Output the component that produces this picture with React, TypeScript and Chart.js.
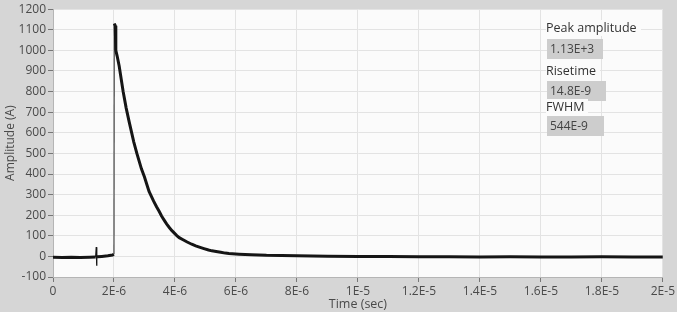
import React, { useEffect, useRef } from "react";
import { Chart, registerables } from "chart.js";

Chart.register(...registerables);

// Time in microseconds (axis labelled in seconds)
const timeUs = [
  0, 0.3, 0.6, 0.9, 1.2, 1.4, 1.42, 1.43, 1.44, 1.46, 1.6, 1.8, 1.95, 2.0,
  2.01, 2.04, 2.06, 2.1, 2.17, 2.3, 2.4, 2.5, 2.65, 2.75, 2.83, 2.9, 3.0,
  3.08, 3.15, 3.3, 3.4, 3.48, 3.56, 3.65, 3.73, 3.82, 3.9, 3.98, 4.06, 4.14,
  4.25, 4.4, 4.55, 4.68, 4.8, 4.95, 5.1, 5.21, 5.35, 5.5, 5.65, 5.77, 6.1, 6.5,
  7, 8, 9, 10, 11, 12, 13, 14, 15, 16, 17, 18, 19, 20,
];
const amplitude = [
  -4, -5, -4, -5, -4, -3, 45, -45, -3, -2, 0, 3, 7, 10,
  1130, 1120, 1000, 975, 924, 800, 720, 652, 555, 500, 460, 425, 385,
  348, 315, 268, 240, 219, 196, 175, 157, 139, 125, 113, 101, 91,
  82, 70, 59, 51, 45, 38, 31, 27, 24, 20, 16, 14, 11, 8,
  5, 3, 1, 0, -1, -2, -2, -3, -2, -3, -3, -2, -3, -3,
];

const xTickLabels = [
  "0", "2E-6", "4E-6", "6E-6", "8E-6", "1E-5", "1.2E-5", "1.4E-5", "1.6E-5", "1.8E-5", "2E-5",
];
const yMin = -100;
const yMax = 1200;
const yStep = 100;

const annotLabels = ["Peak amplitude", "Risetime", "FWHM"];
const annotValues = ["1.13E+3", "14.8E-9", "544E-9"];

const FONT = "'Open Sans', 'DejaVu Sans', sans-serif";

const bgPlugin = {
  id: "bgPanel",
  beforeDraw(chart: any) {
    const { ctx, chartArea } = chart;
    const { left, top, right, bottom } = chartArea;
    ctx.save();
    ctx.fillStyle = "#ffffff";
    ctx.fillRect(0, 0, chart.width, chart.height);
    ctx.fillStyle = "#d6d6d6";
    ctx.fillRect(0, 0, chart.width, 312);
    ctx.fillStyle = "#fbfbfb";
    ctx.fillRect(left, top, right - left, bottom - top);
    ctx.restore();
  },
};

export default function App() {
  const canvasRef = useRef<HTMLCanvasElement | null>(null);

  useEffect(() => {
    if (!canvasRef.current) return;
    const data = timeUs.map((t, i) => ({ x: t, y: amplitude[i] }));
    const thinSegments = [5, 6, 7, 13];
    const chart = new Chart(canvasRef.current, {
      type: "line",
      data: {
        datasets: [
          {
            data,
            borderColor: "#151515",
            borderWidth: 3,
            pointRadius: 0,
            tension: 0,
            segment: {
              borderWidth: (c: any) => (thinSegments.includes(c.p0DataIndex) ? 1.3 : undefined),
              borderColor: (c: any) => (c.p0DataIndex === 13 ? "#555" : undefined),
            },
          } as any,
        ],
      },
      options: {
        animation: false,
        responsive: true,
        maintainAspectRatio: false,
        layout: { padding: { top: 6, right: 13, bottom: 20, left: 0 } },
        plugins: {
          legend: { display: false },
          tooltip: { enabled: false },
        },
        scales: {
          x: {
            type: "linear",
            min: 0,
            max: 20,
            afterFit: (s: any) => {
              s.height = 35;
            },
            ticks: {
              stepSize: 2,
              autoSkip: false,
              maxRotation: 0,
              padding: 2,
              color: "#4a4a4a",
              font: { family: FONT, size: 12 },
              callback: (_v: any, i: number) => xTickLabels[i],
            },
            grid: { color: "#e3e3e3", tickColor: "#777", tickLength: 5 },
            border: { color: "#b5b5b5" },
            title: {
              display: true,
              text: "Time (sec)",
              color: "#4a4a4a",
              font: { family: FONT, size: 12.5 },
              padding: { top: 0, bottom: 0 },
            },
          },
          y: {
            type: "linear",
            min: yMin,
            max: yMax,
            afterFit: (s: any) => {
              s.width = 53;
            },
            ticks: {
              stepSize: yStep,
              autoSkip: false,
              padding: 2,
              color: "#4a4a4a",
              font: { family: FONT, size: 12 },
              callback: (v: any) => String(v),
            },
            grid: { color: "#e3e3e3", tickColor: "#777", tickLength: 5 },
            border: { color: "#b5b5b5" },
            title: {
              display: true,
              text: "Amplitude (A)",
              color: "#4a4a4a",
              font: { family: FONT, size: 12 },
              padding: { top: 3, bottom: 0 },
            },
          },
        },
      } as any,
      plugins: [bgPlugin],
    });
    return () => chart.destroy();
  }, []);

  const labelTops = [20, 63, 99];
  const boxTops = [39, 81, 116];
  const boxWidths = [56, 59, 57];

  return (
    <div style={{ position: "absolute", left: 0, top: 0, width: 677, height: 332 }}>
      <canvas ref={canvasRef} />
      {annotLabels.map((lab, i) => (
        <React.Fragment key={lab}>
          <div
            style={{
              position: "absolute",
              left: 546,
              top: labelTops[i],
              font: `12.5px ${FONT}`,
              color: "#333",
              lineHeight: "16px",
              background: "#fbfbfb",
              paddingRight: 4,
              whiteSpace: "nowrap",
            }}
          >
            {lab}
          </div>
          <div
            style={{
              position: "absolute",
              left: 547,
              top: boxTops[i],
              width: boxWidths[i],
              height: 20,
              background: "#cdcdcd",
              font: `12px ${FONT}`,
              color: "#444",
              lineHeight: "20px",
              paddingLeft: 3,
              boxSizing: "border-box",
              whiteSpace: "nowrap",
            }}
          >
            {annotValues[i]}
          </div>
        </React.Fragment>
      ))}
    </div>
  );
}
